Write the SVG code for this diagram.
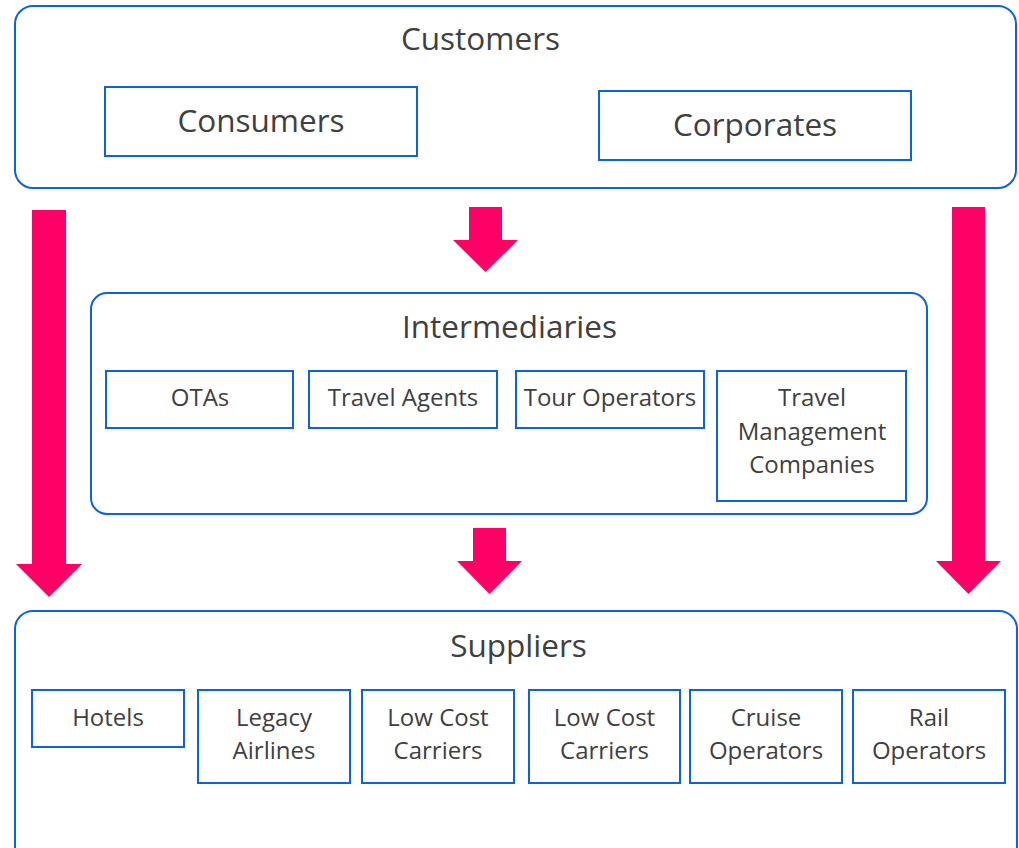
<svg xmlns="http://www.w3.org/2000/svg" width="1019" height="848" viewBox="0 0 1019 848">
  <style>
    .panel { fill: #ffffff; stroke: #0b63de; stroke-width: 2; }
    .box { fill: #ffffff; stroke: #0b63de; stroke-width: 2; }
    .title { font-family: "Open Sans", "Liberation Sans", sans-serif; font-size: 31.5px; fill: #404040; text-anchor: middle; }
    .big { font-family: "Open Sans", "Liberation Sans", sans-serif; font-size: 31.5px; fill: #404040; text-anchor: middle; }
    .label { font-family: "Open Sans", "Liberation Sans", sans-serif; font-size: 24px; fill: #404040; text-anchor: middle; }
    .flow { fill: #ff0066; }
  </style>
  <rect width="1019" height="848" fill="#ffffff"/>

  <!-- Customers tier -->
  <g id="customers">
    <rect class="panel" x="15" y="6" width="1001" height="182" rx="18"/>
    <text class="title" x="480.5" y="50">Customers</text>
  </g>
  <g id="consumers">
    <rect class="box" x="105" y="87" width="312" height="69"/>
    <text class="big" x="261" y="132">Consumers</text>
  </g>
  <g id="corporates">
    <rect class="box" x="599" y="91" width="312" height="69"/>
    <text class="big" x="755" y="136">Corporates</text>
  </g>

  <!-- Intermediaries tier -->
  <g id="intermediaries">
    <rect class="panel" x="91" y="293" width="836" height="221" rx="16"/>
    <text class="title" x="509.5" y="338">Intermediaries</text>
  </g>
  <g id="otas">
    <rect class="box" x="106" y="371" width="187" height="57"/>
    <text class="label" x="200" y="406">OTAs</text>
  </g>
  <g id="travel-agents">
    <rect class="box" x="309" y="371" width="188" height="57"/>
    <text class="label" x="403" y="406">Travel Agents</text>
  </g>
  <g id="tour-operators">
    <rect class="box" x="516" y="371" width="188" height="57"/>
    <text class="label" x="610" y="406">Tour Operators</text>
  </g>
  <g id="tmc">
    <rect class="box" x="717" y="371" width="189" height="130"/>
    <text class="label" x="812" y="406">Travel</text>
    <text class="label" x="812" y="440">Management</text>
    <text class="label" x="812" y="473">Companies</text>
  </g>

  <!-- Suppliers tier -->
  <g id="suppliers">
    <rect class="panel" x="15" y="611" width="1002" height="260" rx="18"/>
    <text class="title" x="518.5" y="657">Suppliers</text>
  </g>
  <g id="hotels">
    <rect class="box" x="32" y="690" width="152" height="57"/>
    <text class="label" x="108" y="726">Hotels</text>
  </g>
  <g id="legacy-airlines">
    <rect class="box" x="198" y="690" width="152" height="93"/>
    <text class="label" x="274" y="726">Legacy</text>
    <text class="label" x="274" y="759">Airlines</text>
  </g>
  <g id="low-cost-1">
    <rect class="box" x="362" y="690" width="152" height="93"/>
    <text class="label" x="438" y="726">Low Cost</text>
    <text class="label" x="438" y="759">Carriers</text>
  </g>
  <g id="low-cost-2">
    <rect class="box" x="529" y="690" width="151" height="93"/>
    <text class="label" x="604.5" y="726">Low Cost</text>
    <text class="label" x="604.5" y="759">Carriers</text>
  </g>
  <g id="cruise-operators">
    <rect class="box" x="690" y="690" width="152" height="93"/>
    <text class="label" x="766" y="726">Cruise</text>
    <text class="label" x="766" y="759">Operators</text>
  </g>
  <g id="rail-operators">
    <rect class="box" x="853" y="690" width="152" height="93"/>
    <text class="label" x="929" y="726">Rail</text>
    <text class="label" x="929" y="759">Operators</text>
  </g>

  <!-- Block arrows between tiers -->
  <g id="connectors">
    <polygon class="flow" points="32,210 66,210 66,564 82,564 49,597 16,564 32,564"/>
    <polygon class="flow" points="469,207 502,207 502,240 518,240 485.5,272 453,240 469,240"/>
    <polygon class="flow" points="473,528 506,528 506,561 522,561 489.5,594 457,561 473,561"/>
    <polygon class="flow" points="952,207 985,207 985,561 1001,561 968.5,594 936,561 952,561"/>
  </g>
</svg>
